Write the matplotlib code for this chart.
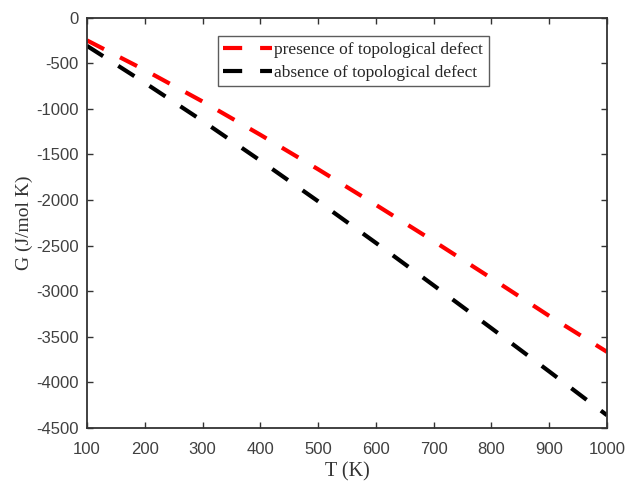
import matplotlib.pyplot as plt

plt.rcParams["axes.unicode_minus"] = False

# Gibbs free energy vs temperature
T = [100, 200, 300, 400, 500, 600, 700, 800, 900, 1000]
G_defect = [-250, -575, -920, -1285, -1663, -2053, -2451, -2858, -3271, -3665]
G_no_defect = [-310, -715, -1133, -1568, -2014, -2470, -2936, -3406, -3880, -4360]

XTICKS = list(range(100, 1001, 100))
YTICKS = list(range(-4500, 1, 500))

AX_COLOR = "#333333"


def main():
    fig = plt.figure(figsize=(6.29, 4.82), dpi=100)
    ax = fig.add_axes([0.1383, 0.112, 0.8267, 0.8515])

    ax.plot(T, G_defect, color="#ff0000", lw=3, dashes=(4.6, 4.3),
            label="presence of topological defect")
    ax.plot(T, G_no_defect, color="black", lw=3, dashes=(4.6, 4.3),
            label="absence of topological defect")

    ax.set_xlim(100, 1000)
    ax.set_ylim(-4500, 0)
    ax.set_xticks(XTICKS)
    ax.set_yticks(YTICKS)

    ax.tick_params(direction="in", length=4, width=1, top=True, right=True,
                   color=AX_COLOR, labelcolor="#404040", labelsize=12)
    ax.tick_params(axis="x", pad=10)
    ax.tick_params(axis="y", pad=6)
    for lab in ax.get_xticklabels() + ax.get_yticklabels():
        lab.set_fontfamily("Liberation Sans")
    for sp in ax.spines.values():
        sp.set_color(AX_COLOR)
        sp.set_linewidth(1.3)

    ax.set_xlabel("T (K)", family="Liberation Serif", fontsize=14.5, color=AX_COLOR, labelpad=4)
    ax.set_ylabel("G (J/mol K)", family="Liberation Serif", fontsize=14, color=AX_COLOR, labelpad=2)

    leg = ax.legend(loc="upper left", bbox_to_anchor=(0.252, 0.954),
                    prop={"family": "Liberation Serif", "size": 12.5},
                    handlelength=2.8, handletextpad=0.15, borderpad=0.3,
                    labelspacing=0.42, borderaxespad=0, fancybox=False)
    leg.get_frame().set_edgecolor(AX_COLOR)
    leg.get_frame().set_linewidth(1.0)
    for txt in leg.get_texts():
        txt.set_color("#262626")

    fig.savefig("out.png", dpi=100)


if __name__ == "__main__":
    main()
